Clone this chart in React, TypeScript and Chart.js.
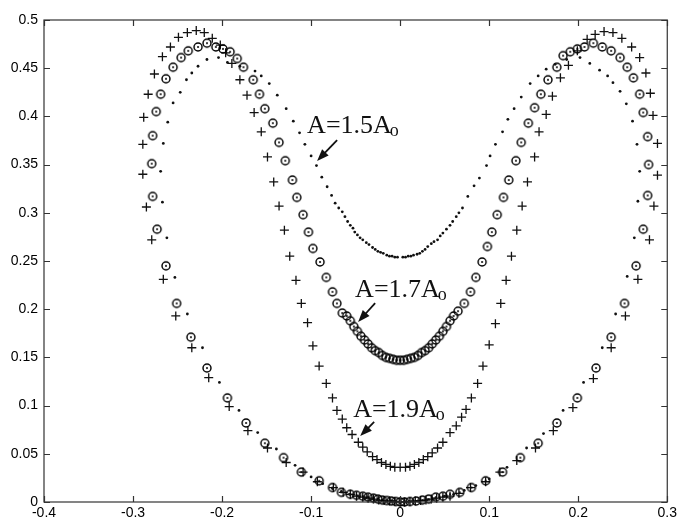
import React, { useEffect, useRef } from "react";
import { Chart, registerables } from "chart.js";

Chart.register(...registerables);

// ---- tick values and labels ----
const xTicks = [-0.4, -0.3, -0.2, -0.1, 0, 0.1, 0.2, 0.3];
const xTickLabels = ["-0.4", "-0.3", "-0.2", "-0.1", "0", "0.1", "0.2", "0.3"];
const yTicks = [0, 0.05, 0.1, 0.15, 0.2, 0.25, 0.3, 0.35, 0.4, 0.45, 0.5];
const yTickLabels = ["0", "0.05", "0.1", "0.15", "0.2", "0.25", "0.3", "0.35", "0.4", "0.45", "0.5"];

// ---- A = 1.5 A0 (dots) ----
const a15LeftX = [0, -0.008, -0.016, -0.024, -0.032, -0.040, -0.048, -0.057, -0.066, -0.076,
  -0.087, -0.100, -0.118, -0.139, -0.160, -0.181, -0.203, -0.222, -0.239, -0.253,
  -0.262, -0.267, -0.269, -0.266, -0.261, -0.255, -0.247, -0.240, -0.234, -0.227,
  -0.217, -0.204, -0.194, -0.180, -0.163, -0.156, -0.147, -0.138, -0.128, -0.120,
  -0.113, -0.107, -0.100, -0.094, -0.088, -0.082, -0.077, -0.073, -0.069, -0.065,
  -0.062, -0.059, -0.056, -0.053, -0.051, -0.048, -0.045, -0.042, -0.038, -0.035,
  -0.031, -0.028, -0.025, -0.022, -0.019, -0.015, -0.012, -0.009, -0.006, -0.003];
const a15LeftY = [0, 0.0005, 0.001, 0.002, 0.003, 0.004, 0.006, 0.008, 0.011, 0.014,
  0.019, 0.026, 0.038, 0.055, 0.072, 0.095, 0.124, 0.160, 0.195, 0.233,
  0.274, 0.311, 0.343, 0.372, 0.394, 0.414, 0.425, 0.438, 0.445, 0.452,
  0.459, 0.461, 0.456, 0.452, 0.447, 0.442, 0.434, 0.422, 0.408, 0.395,
  0.383, 0.371, 0.359, 0.349, 0.337, 0.327, 0.318, 0.310, 0.305, 0.301,
  0.296, 0.291, 0.287, 0.284, 0.280, 0.277, 0.274, 0.272, 0.269, 0.267,
  0.264, 0.262, 0.260, 0.259, 0.258, 0.256, 0.255, 0.255, 0.254, 0.254];
const a15RightX = [0.003, 0.006, 0.009, 0.012, 0.015, 0.019, 0.022, 0.025, 0.028, 0.031,
  0.035, 0.038, 0.042, 0.045, 0.048, 0.052, 0.056, 0.059, 0.063, 0.066,
  0.070, 0.076, 0.083, 0.089, 0.097, 0.101, 0.107, 0.115, 0.121, 0.128,
  0.136, 0.146, 0.155, 0.164, 0.174, 0.187, 0.202, 0.213, 0.224, 0.233,
  0.239, 0.247, 0.254, 0.261, 0.266, 0.269, 0.267, 0.263, 0.255, 0.242,
  0.227, 0.206, 0.183, 0.161, 0.142, 0.120, 0.100, 0.085, 0.072, 0.060,
  0.050, 0.040, 0.030, 0.020, 0.010];
const a15RightY = [0.254, 0.254, 0.255, 0.255, 0.256, 0.257, 0.258, 0.260, 0.262, 0.265,
  0.268, 0.270, 0.272, 0.276, 0.279, 0.283, 0.287, 0.291, 0.296, 0.300,
  0.305, 0.317, 0.328, 0.336, 0.349, 0.359, 0.371, 0.384, 0.397, 0.408,
  0.420, 0.434, 0.442, 0.449, 0.454, 0.459, 0.461, 0.455, 0.448, 0.442,
  0.435, 0.426, 0.413, 0.395, 0.371, 0.343, 0.312, 0.274, 0.234, 0.195,
  0.160, 0.124, 0.095, 0.071, 0.056, 0.036, 0.024, 0.017, 0.012, 0.008,
  0.006, 0.004, 0.002, 0.001, 0.0005];

// ---- A = 1.7 A0 (circles with centre dot) ----
const a17LeftX = [0, -0.005, -0.010, -0.015, -0.020, -0.025, -0.030, -0.036, -0.042, -0.049,
  -0.056, -0.066, -0.076, -0.091, -0.111, -0.131, -0.152, -0.173, -0.194, -0.217,
  -0.235, -0.251, -0.263, -0.273, -0.278, -0.279, -0.278, -0.274, -0.269, -0.263,
  -0.255, -0.246, -0.238, -0.227, -0.217, -0.207, -0.199, -0.191, -0.183, -0.176,
  -0.165, -0.158, -0.152, -0.143, -0.136, -0.129, -0.121, -0.116, -0.109, -0.103,
  -0.098, -0.090, -0.083, -0.076, -0.071, -0.065, -0.060, -0.056, -0.052, -0.048,
  -0.044, -0.040, -0.036, -0.032, -0.028, -0.024, -0.020, -0.016, -0.012, -0.008,
  -0.004];
const a17LeftY = [0, 0.0005, 0.001, 0.0015, 0.002, 0.003, 0.004, 0.005, 0.006, 0.007,
  0.008, 0.010, 0.015, 0.022, 0.031, 0.046, 0.061, 0.082, 0.108, 0.139,
  0.171, 0.206, 0.245, 0.283, 0.317, 0.351, 0.380, 0.405, 0.423, 0.439,
  0.451, 0.461, 0.468, 0.472, 0.476, 0.472, 0.470, 0.467, 0.460, 0.451,
  0.438, 0.423, 0.408, 0.393, 0.373, 0.354, 0.334, 0.316, 0.298, 0.280,
  0.263, 0.249, 0.233, 0.218, 0.206, 0.196, 0.193, 0.188, 0.182, 0.177,
  0.172, 0.168, 0.164, 0.160, 0.157, 0.155, 0.152, 0.150, 0.149, 0.148,
  0.147];
const a17RightX = [0, 0.004, 0.008, 0.012, 0.016, 0.020, 0.024, 0.028, 0.032, 0.036,
  0.040, 0.044, 0.048, 0.052, 0.056, 0.060, 0.065, 0.072, 0.079, 0.085,
  0.092, 0.098, 0.103, 0.109, 0.116, 0.122, 0.130, 0.136, 0.144, 0.151,
  0.158, 0.166, 0.176, 0.183, 0.191, 0.199, 0.207, 0.217, 0.227, 0.237,
  0.247, 0.255, 0.262, 0.269, 0.273, 0.278, 0.279, 0.278, 0.273, 0.265,
  0.252, 0.237, 0.220, 0.199, 0.176, 0.155, 0.135, 0.115, 0.096, 0.080,
  0.067, 0.056, 0.048, 0.040, 0.032, 0.025, 0.018, 0.011, 0.005];
const a17RightY = [0.147, 0.147, 0.148, 0.149, 0.150, 0.152, 0.155, 0.157, 0.160, 0.164,
  0.168, 0.172, 0.177, 0.182, 0.188, 0.193, 0.198, 0.206, 0.218, 0.233,
  0.249, 0.265, 0.280, 0.298, 0.316, 0.334, 0.354, 0.373, 0.393, 0.409,
  0.423, 0.438, 0.451, 0.463, 0.467, 0.470, 0.472, 0.476, 0.472, 0.468,
  0.461, 0.451, 0.440, 0.423, 0.404, 0.379, 0.350, 0.318, 0.283, 0.245,
  0.206, 0.171, 0.139, 0.108, 0.082, 0.061, 0.046, 0.031, 0.022, 0.015,
  0.010, 0.008, 0.006, 0.005, 0.003, 0.002, 0.001, 0.0005, 0];

// ---- A = 1.9 A0 (plus signs) ----
const a19LeftX = [0, -0.006, -0.012, -0.018, -0.024, -0.030, -0.036, -0.042, -0.049, -0.056,
  -0.064, -0.075, -0.093, -0.109, -0.128, -0.149, -0.171, -0.192, -0.215, -0.234,
  -0.252, -0.266, -0.279, -0.285, -0.289, -0.289, -0.288, -0.283, -0.276, -0.267,
  -0.258, -0.249, -0.239, -0.229, -0.220, -0.211, -0.202, -0.196, -0.189, -0.180,
  -0.172, -0.164, -0.156, -0.149, -0.142, -0.136, -0.130, -0.124, -0.117, -0.111,
  -0.104, -0.098, -0.091, -0.083, -0.076, -0.071, -0.065, -0.060, -0.054, -0.047,
  -0.042, -0.037, -0.031, -0.026, -0.021, -0.016, -0.011, -0.006];
const a19LeftY = [0, 0.0005, 0.001, 0.0015, 0.002, 0.003, 0.004, 0.005, 0.006, 0.008,
  0.010, 0.015, 0.021, 0.031, 0.041, 0.056, 0.074, 0.099, 0.129, 0.160,
  0.193, 0.231, 0.272, 0.306, 0.340, 0.371, 0.399, 0.423, 0.444, 0.462,
  0.472, 0.482, 0.487, 0.489, 0.487, 0.481, 0.474, 0.466, 0.455, 0.438,
  0.422, 0.404, 0.384, 0.358, 0.332, 0.307, 0.282, 0.255, 0.230, 0.206,
  0.186, 0.162, 0.141, 0.123, 0.108, 0.095, 0.086, 0.077, 0.070, 0.062,
  0.057, 0.052, 0.047, 0.044, 0.041, 0.039, 0.037, 0.036];
const a19RightX = [0, 0.006, 0.011, 0.016, 0.021, 0.026, 0.031, 0.036, 0.042, 0.048,
  0.056, 0.063, 0.069, 0.074, 0.080, 0.087, 0.093, 0.100, 0.107, 0.113,
  0.119, 0.125, 0.131, 0.137, 0.143, 0.151, 0.156, 0.164, 0.171, 0.180,
  0.189, 0.199, 0.210, 0.219, 0.229, 0.239, 0.249, 0.260, 0.269, 0.276,
  0.281, 0.284, 0.289, 0.289, 0.285, 0.280, 0.267, 0.253, 0.237, 0.217,
  0.194, 0.172, 0.152, 0.131, 0.112, 0.096, 0.079, 0.066, 0.056, 0.048,
  0.041, 0.035, 0.029, 0.023, 0.017, 0.011, 0.005];
const a19RightY = [0.036, 0.036, 0.037, 0.039, 0.041, 0.044, 0.047, 0.051, 0.056, 0.062,
  0.072, 0.079, 0.088, 0.096, 0.108, 0.123, 0.141, 0.163, 0.185, 0.206,
  0.230, 0.255, 0.282, 0.307, 0.332, 0.358, 0.384, 0.402, 0.421, 0.440,
  0.453, 0.468, 0.480, 0.485, 0.488, 0.487, 0.481, 0.472, 0.461, 0.445,
  0.424, 0.401, 0.372, 0.339, 0.307, 0.272, 0.231, 0.193, 0.160, 0.128,
  0.098, 0.074, 0.056, 0.043, 0.031, 0.021, 0.015, 0.009, 0.006, 0.005,
  0.004, 0.003, 0.002, 0.0015, 0.001, 0.0005, 0];

// ---- labels with arrows (anchored in data coordinates) ----
const annotations = [
  { main: "A=1.5A", sub: "o", x: -0.1045, y: 0.383, fromX: -0.0708, fromY: 0.3755, toX: -0.0933, toY: 0.3537 },
  { main: "A=1.7A", sub: "o", x: -0.0506, y: 0.2127, fromX: -0.0281, fromY: 0.2064, toX: -0.0472, toY: 0.1867 },
  { main: "A=1.9A", sub: "o", x: -0.0528, y: 0.0882, fromX: -0.0292, fromY: 0.083, toX: -0.0449, toY: 0.0685 },
];

function zip(xs: number[], ys: number[]) {
  const n = Math.min(xs.length, ys.length);
  const out: { x: number; y: number }[] = [];
  for (let i = 0; i < n; i++) out.push({ x: xs[i], y: ys[i] });
  return out;
}

function labelFor(values: number[], labels: string[], v: number) {
  for (let i = 0; i < values.length; i++) if (Math.abs(values[i] - v) < 1e-9) return labels[i];
  return "";
}

export default function App() {
  const ref = useRef<HTMLCanvasElement>(null);

  useEffect(() => {
    document.body.style.margin = "0";
    const canvas = ref.current!;

    // circle-with-dot marker
    const mk = document.createElement("canvas");
    mk.width = 12;
    mk.height = 12;
    const m = mk.getContext("2d")!;
    m.strokeStyle = "#000";
    m.lineWidth = 1.45;
    m.beginPath();
    m.arc(6, 6, 4.0, 0, Math.PI * 2);
    m.stroke();
    m.fillStyle = "#000";
    m.beginPath();
    m.arc(6, 6, 1.0, 0, Math.PI * 2);
    m.fill();

    const framePlugin = {
      id: "frame",
      afterDatasetsDraw(chart: any) {
        const { ctx, chartArea: a, scales } = chart;
        const xs = scales.x;
        const ys = scales.y;
        ctx.save();
        ctx.strokeStyle = "#333";
        ctx.lineWidth = 1.2;
        ctx.strokeRect(a.left, a.top, a.right - a.left, a.bottom - a.top);
        const tl = 6;
        ctx.beginPath();
        xTicks.forEach((v) => {
          const px = Math.round(xs.getPixelForValue(v)) + 0.5;
          ctx.moveTo(px, a.bottom);
          ctx.lineTo(px, a.bottom - tl);
          ctx.moveTo(px, a.top);
          ctx.lineTo(px, a.top + tl);
        });
        yTicks.forEach((v) => {
          const py = Math.round(ys.getPixelForValue(v)) + 0.5;
          ctx.moveTo(a.left, py);
          ctx.lineTo(a.left + tl, py);
          ctx.moveTo(a.right, py);
          ctx.lineTo(a.right - tl, py);
        });
        ctx.stroke();

        // annotations
        ctx.fillStyle = "#111";
        ctx.strokeStyle = "#111";
        ctx.textAlign = "left";
        ctx.textBaseline = "alphabetic";
        annotations.forEach((an) => {
          const tx = xs.getPixelForValue(an.x);
          const ty = ys.getPixelForValue(an.y);
          ctx.font = "26px 'Liberation Serif', 'DejaVu Serif', serif";
          ctx.fillText(an.main, tx, ty);
          const w = ctx.measureText(an.main).width;
          ctx.font = "18px 'Liberation Serif', 'DejaVu Serif', serif";
          ctx.fillText(an.sub, tx + w - 2, ty + 3);

          const fx = xs.getPixelForValue(an.fromX);
          const fy = ys.getPixelForValue(an.fromY);
          const ex = xs.getPixelForValue(an.toX);
          const ey = ys.getPixelForValue(an.toY);
          const ang = Math.atan2(ey - fy, ex - fx);
          const hl = 12;
          const hw = 4.5;
          ctx.lineWidth = 1.8;
          ctx.beginPath();
          ctx.moveTo(fx, fy);
          ctx.lineTo(ex - hl * 0.7 * Math.cos(ang), ey - hl * 0.7 * Math.sin(ang));
          ctx.stroke();
          const bx = ex - hl * Math.cos(ang);
          const by = ey - hl * Math.sin(ang);
          ctx.beginPath();
          ctx.moveTo(ex, ey);
          ctx.lineTo(bx + hw * Math.sin(ang), by - hw * Math.cos(ang));
          ctx.lineTo(bx - hw * Math.sin(ang), by + hw * Math.cos(ang));
          ctx.closePath();
          ctx.fill();
        });
        ctx.restore();
      },
    };

    const tickFont = { family: "'Liberation Sans', Arial, sans-serif", size: 14 };

    const chart = new Chart(canvas, {
      type: "scatter",
      data: {
        datasets: [
          {
            label: "A=1.5A0",
            data: [...zip(a15LeftX, a15LeftY), ...zip(a15RightX, a15RightY)],
            pointStyle: "circle",
            pointRadius: 1.4,
            backgroundColor: "#111",
            borderColor: "#111",
            borderWidth: 0,
            clip: false as any,
          },
          {
            label: "A=1.7A0",
            data: [...zip(a17LeftX, a17LeftY), ...zip(a17RightX, a17RightY)],
            pointStyle: mk as any,
            pointRadius: 5,
            clip: false as any,
          },
          {
            label: "A=1.9A0",
            data: [...zip(a19LeftX, a19LeftY), ...zip(a19RightX, a19RightY)],
            pointStyle: "cross",
            pointRadius: 4.5,
            borderColor: "#111",
            backgroundColor: "#111",
            borderWidth: 1.3,
            clip: false as any,
          },
        ],
      },
      options: {
        responsive: false,
        animation: false,
        events: [],
        layout: { padding: { top: 20, right: 12, left: 0, bottom: 0 } },
        plugins: { legend: { display: false }, tooltip: { enabled: false } },
        scales: {
          x: {
            type: "linear",
            min: -0.4,
            max: 0.3,
            afterBuildTicks: (s: any) => {
              s.ticks = xTicks.map((v) => ({ value: v }));
            },
            afterFit: (s: any) => {
              s.height = 21;
            },
            grid: { display: false, drawTicks: false },
            border: { display: false },
            ticks: {
              padding: 3,
              color: "#000",
              font: tickFont,
              maxRotation: 0,
              autoSkip: false,
              callback: (v: any) => labelFor(xTicks, xTickLabels, Number(v)),
            },
          },
          y: {
            type: "linear",
            min: 0,
            max: 0.5,
            afterBuildTicks: (s: any) => {
              s.ticks = yTicks.map((v) => ({ value: v }));
            },
            afterFit: (s: any) => {
              s.width = 44;
            },
            grid: { display: false, drawTicks: false },
            border: { display: false },
            ticks: {
              padding: 6,
              color: "#000",
              font: tickFont,
              autoSkip: false,
              callback: (v: any) => labelFor(yTicks, yTickLabels, Number(v)),
            },
          },
        },
      },
      plugins: [framePlugin],
    } as any);

    return () => chart.destroy();
  }, []);

  return <canvas ref={ref} width={680} height={523} style={{ display: "block" }} />;
}
